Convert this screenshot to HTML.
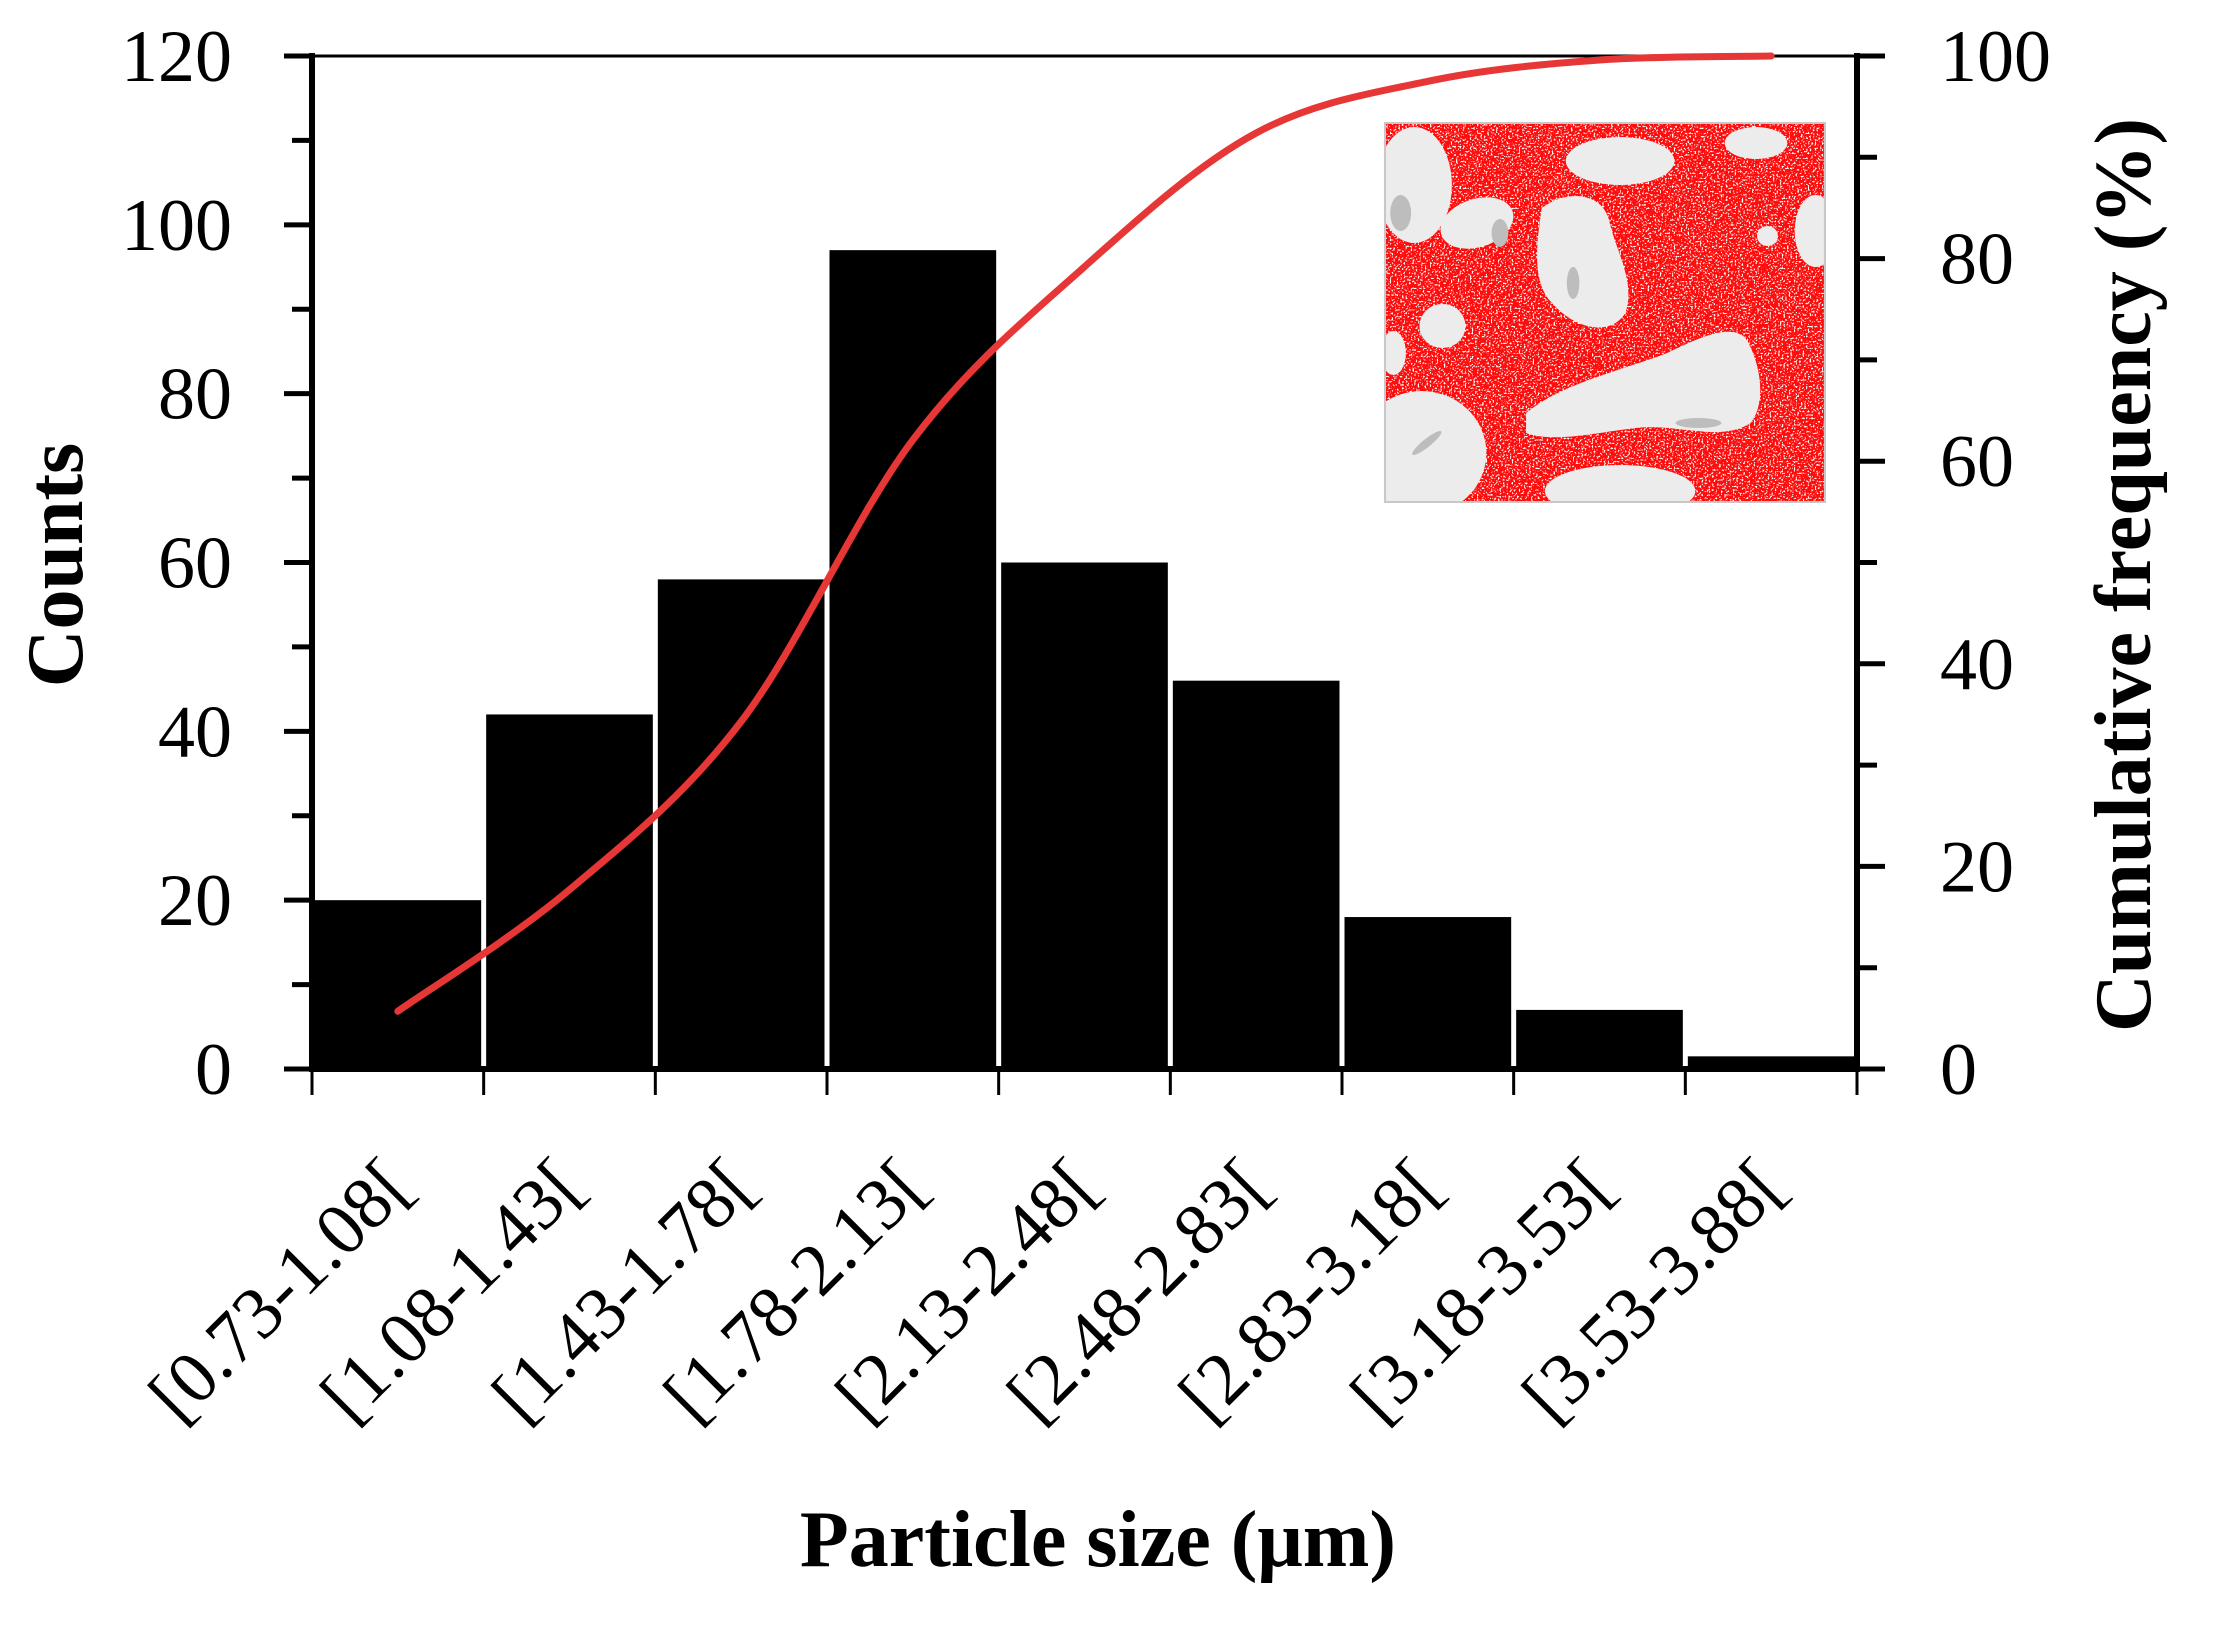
<!DOCTYPE html>
<html><head><meta charset="utf-8"><style>
html,body{margin:0;padding:0;background:#fff;}
svg{display:block;}
text{font-family:"Liberation Serif",serif;fill:#000;}
</style></head><body>
<svg id="chart" width="2237" height="1642" viewBox="0 0 2237 1642" xmlns="http://www.w3.org/2000/svg">
<defs>
<filter id="speck" x="0" y="0" width="100%" height="100%">
<feTurbulence type="fractalNoise" baseFrequency="0.6" numOctaves="1" seed="4" result="n"/>
<feColorMatrix in="n" type="matrix" values="0 0 0 0 1  0 0 0 0 1  0 0 0 0 1  0 0 0 -9 3.9" result="w"/>
<feComposite in="w" in2="SourceGraphic" operator="atop"/>
</filter>
<clipPath id="insetClip"><rect x="0" y="0" width="421" height="379"/></clipPath>
</defs>
<g id="bars"></g>
<g id="inset" transform="translate(1385,123) scale(1.045,1)">
<g clip-path="url(#insetClip)">
<rect width="421" height="379" fill="#ff0a0a" filter="url(#speck)"/>
<g fill="#ececec">
<ellipse cx="28" cy="62" rx="36" ry="58"/>
<ellipse cx="88" cy="100" rx="36" ry="24" transform="rotate(-20 88 100)"/>
<path d="M150 85 C175 65 210 70 215 100 C222 130 240 160 230 190 C215 215 180 205 160 180 C140 160 145 120 150 85Z"/>
<ellipse cx="225" cy="38" rx="52" ry="24"/>
<ellipse cx="355" cy="20" rx="30" ry="16"/>
<circle cx="366" cy="113" r="10"/>
<ellipse cx="412" cy="108" rx="20" ry="36"/>
<circle cx="55" cy="203" r="22"/>
<ellipse cx="35" cy="330" rx="62" ry="62"/>
<path d="M135 290 C170 260 220 250 270 230 C300 215 330 200 345 215 C360 240 365 280 350 300 C320 320 280 300 240 305 C200 310 160 320 135 310Z"/>
<ellipse cx="225" cy="368" rx="72" ry="26"/>
<ellipse cx="8" cy="230" rx="12" ry="22"/>
</g>
<g fill="#bdbdbd">
<ellipse cx="15" cy="90" rx="10" ry="18"/>
<ellipse cx="180" cy="160" rx="6" ry="16"/>
<ellipse cx="300" cy="300" rx="22" ry="5"/>
<ellipse cx="40" cy="320" rx="18" ry="4" transform="rotate(-40 40 320)"/>
<ellipse cx="110" cy="110" rx="8" ry="14"/>
</g>
</g>
<rect x="0" y="0" width="421" height="379" fill="none" stroke="#c8c8c8" stroke-width="2"/>
</g>
<g id="axes"></g>
<path id="cum-line" fill="none" stroke="#e63636" stroke-width="7" stroke-linecap="round"/>
<text transform="translate(82,565) rotate(-90)" text-anchor="middle" font-size="80" font-weight="bold">Counts</text>
<text transform="translate(2150,575) rotate(-90)" text-anchor="middle" font-size="80" font-weight="bold">Cumulative frequency (%)</text>
<text x="1098" y="1566" text-anchor="middle" font-size="80" font-weight="bold">Particle size (μm)</text>
</svg>
<script>
const categories = ["[0.73-1.08[","[1.08-1.43[","[1.43-1.78[","[1.78-2.13[","[2.13-2.48[","[2.48-2.83[","[2.83-3.18[","[3.18-3.53[","[3.53-3.88["];
const counts = [20, 42, 58, 97, 60, 46, 18, 7, 1.5];
const cumulative = [5.7, 17.7, 34.3, 62.1, 79.2, 92.4, 97.5, 99.6, 100];
const leftTicks = [0, 20, 40, 60, 80, 100, 120];
const rightTicks = [0, 20, 40, 60, 80, 100];

const NS = "http://www.w3.org/2000/svg";
const X0 = 312, X1 = 1857, Y0 = 1069, Y1 = 56;
const bw = (X1 - X0) / categories.length;
const yL = v => Y0 - (v / 120) * (Y0 - Y1);
const yR = v => Y0 - (v / 100) * (Y0 - Y1);
const xEdge = i => X0 + i * bw;
const xC = i => X0 + (i + 0.5) * bw;
function mk(tag, attrs, parent) {
  const e = document.createElementNS(NS, tag);
  for (const k in attrs) e.setAttribute(k, attrs[k]);
  parent.appendChild(e);
  return e;
}
const bars = document.getElementById('bars');
counts.forEach((c, i) => {
  const r = mk('rect', {x: xEdge(i) + 2.5, y: yL(c), width: bw - 5, height: Y0 - yL(c), fill: '#000'}, bars);
  
  
});
const ax = document.getElementById('axes');
const line = (x1, y1, x2, y2, w, name) => {
  const l = mk('line', {x1, y1, x2, y2, stroke: '#000', 'stroke-width': w}, ax);
  
  
  return l;
};
line(X0, Y1, X1, Y1, 3, 'top-border');
line(X0, Y1 - 3, X0, Y0 + 3, 6, 'left-y-axis');
line(X1, Y1 - 3, X1, Y0 + 3, 6, 'right-y-axis');
line(X0, Y0, X1, Y0, 6, 'x-axis');
for (let v = 0; v <= 120; v += 10) {
  const major = v % 20 === 0;
  line(major ? X0 - 28 : X0 - 20, yL(v), X0, yL(v), 5, 'left-tick');
}
for (let v = 0; v <= 100; v += 10) {
  const major = v % 20 === 0;
  line(X1, yR(v), major ? X1 + 28 : X1 + 20, yR(v), 5, 'right-tick');
}
for (let i = 0; i <= categories.length; i++) line(xEdge(i), Y0, xEdge(i), Y0 + 26, 3, 'x-tick');
leftTicks.forEach(v => {
  const t = mk('text', {x: 232, y: yL(v) + 25, 'text-anchor': 'end', 'font-size': 74}, ax);
  t.textContent = v;
  
  
});
rightTicks.forEach(v => {
  const t = mk('text', {x: 1940, y: yR(v) + 25, 'text-anchor': 'start', 'font-size': 74}, ax);
  t.textContent = v;
  
  
});
categories.forEach((c, i) => {
  const x = xC(i) + 17, y = 1190;
  const t = mk('text', {transform: `translate(${x},${y}) rotate(-45)`, 'text-anchor': 'end', 'font-size': 74}, ax);
  t.textContent = c;
  
  
});
// smooth curve (Catmull-Rom)
const pts = cumulative.map((v, i) => [xC(i), yR(v)]);
let d = `M${pts[0][0]},${pts[0][1]}`;
for (let i = 0; i < pts.length - 1; i++) {
  const p0 = pts[i - 1] || pts[i], p1 = pts[i], p2 = pts[i + 1], p3 = pts[i + 2] || pts[i + 1];
  const c1 = [p1[0] + (p2[0] - p0[0]) / 6, p1[1] + (p2[1] - p0[1]) / 6];
  const c2 = [p2[0] - (p3[0] - p1[0]) / 6, p2[1] - (p3[1] - p1[1]) / 6];
  d += ` C${c1[0]},${c1[1]} ${c2[0]},${c2[1]} ${p2[0]},${p2[1]}`;
}
document.getElementById('cum-line').setAttribute('d', d);
</script>
</body></html>
